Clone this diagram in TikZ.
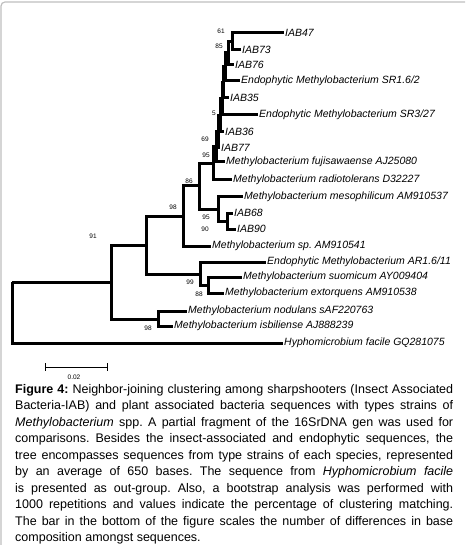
\documentclass[tikz,border=0pt]{standalone}
\usepackage{fontspec}
\setmainfont{Liberation Sans}
\frenchspacing
\begin{document}
\begin{tikzpicture}[x=1pt,y=-1pt,
  branch/.style={line width=3pt},
  taxon/.style={anchor=west,inner sep=1pt,font=\fontsize{10.5}{12}\selectfont\itshape},
  boot/.style={inner sep=0pt,font=\fontsize{6.5}{7}\selectfont}]
\useasboundingbox (0,0) rectangle (465,545);
\draw[gray!50,line width=1.2pt,rounded corners=4pt] (1,545) -- (1,2) -- (465,2);
% taxa
\node[taxon] (iab47) at (284,33) {IAB47};
\node[taxon] (iab73) at (241,50) {IAB73};
\node[taxon] (iab76) at (234,65) {IAB76};
\node[taxon] (sr162) at (240,81) {Endophytic Methylobacterium SR1.6/2};
\node[taxon] (iab35) at (229,98) {IAB35};
\node[taxon] (sr327) at (258,115) {Endophytic Methylobacterium SR3/27};
\node[taxon] (iab36) at (224,132) {IAB36};
\node[taxon] (iab77) at (220,148) {IAB77};
\node[taxon] (fuji) at (225,162) {Methylobacterium fujisawaense AJ25080};
\node[taxon] (radio) at (232,180) {Methylobacterium radiotolerans D32227};
\node[taxon] (meso) at (243,197) {Methylobacterium mesophilicum AM910537};
\node[taxon] (iab68) at (233,213) {IAB68};
\node[taxon] (iab90) at (236,229) {IAB90};
\node[taxon] (msp) at (211,246) {Methylobacterium sp. AM910541};
\node[taxon] (ar1611) at (266,262) {Endophytic Methylobacterium AR1.6/11};
\node[taxon] (suom) at (242,277) {Methylobacterium suomicum AY009404};
\node[taxon] (extor) at (224,293) {Methylobacterium extorquens AM910538};
\node[taxon] (nodul) at (187,311) {Methylobacterium nodulans sAF220763};
\node[taxon] (isbil) at (173,326) {Methylobacterium isbiliense AJ888239};
\node[taxon] (hypho) at (283,343) {Hyphomicrobium facile GQ281075};
% internal nodes
\coordinate (nA) at (232,41.5);
\coordinate (nB) at (228,53);
\coordinate (nC) at (225,67);
\coordinate (nD) at (223,82.5);
\coordinate (nE) at (222,99);
\coordinate (nF) at (220,115.5);
\coordinate (nG) at (218,132);
\coordinate (nH) at (216,147);
\coordinate (nI) at (213,163.5);
\coordinate (nL) at (227,221);
\coordinate (nK) at (218,209);
\coordinate (nJ) at (199,186);
\coordinate (nM) at (183,216);
\coordinate (nQ) at (208,285);
\coordinate (nP) at (200,274);
\coordinate (nN) at (146,245);
\coordinate (nS) at (158,319);
\coordinate (nR) at (111,282);
\coordinate (root) at (12,282);
% branches
\draw[branch] (nA) |- (iab47.west); \draw[branch] (nA) |- (iab73.west);
\draw[branch] (nB) |- (nA); \draw[branch] (nB) |- (iab76.west);
\draw[branch] (nC) |- (nB); \draw[branch] (nC) |- (sr162.west);
\draw[branch] (nD) |- (nC); \draw[branch] (nD) |- (iab35.west);
\draw[branch] (nE) |- (nD); \draw[branch] (nE) |- (sr327.west);
\draw[branch] (nF) |- (nE); \draw[branch] (nF) |- (iab36.west);
\draw[branch] (nG) |- (nF); \draw[branch] (nG) |- (iab77.west);
\draw[branch] (nH) |- (nG); \draw[branch] (nH) |- (fuji.west);
\draw[branch] (nI) |- (nH); \draw[branch] (nI) |- (radio.west);
\draw[branch] (nL) |- (iab68.west); \draw[branch] (nL) |- (iab90.west);
\draw[branch] (nK) |- (meso.west); \draw[branch] (nK) |- (nL);
\draw[branch] (nJ) |- (nI); \draw[branch] (nJ) |- (nK);
\draw[branch] (nM) |- (nJ); \draw[branch] (nM) |- (msp.west);
\draw[branch] (nQ) |- (suom.west); \draw[branch] (nQ) |- (extor.west);
\draw[branch] (nP) |- (ar1611.west); \draw[branch] (nP) |- (nQ);
\draw[branch] (nN) |- (nM); \draw[branch] (nN) |- (nP);
\draw[branch] (nS) |- (nodul.west); \draw[branch] (nS) |- (isbil.west);
\draw[branch] (nR) |- (nN); \draw[branch] (nR) |- (nS);
\draw[branch] (root) -- (nR); \draw[branch] (root) |- (hypho.west);
% bootstrap values
\node[boot] (b61) at (221,31) {61};
\node[boot] (b85) at (219,46) {85};
\node[boot] (b5) at (214,113) {5};
\node[boot] (b69) at (205,139) {69};
\node[boot] (b95) at (206,155) {95};
\node[boot] (b86) at (189,181) {86};
\node[boot] (b98) at (173,207) {98};
\node[boot] (b95b) at (206,217) {95};
\node[boot] (b90) at (205,229) {90};
\node[boot] (b91) at (93,236) {91};
\node[boot] (b99) at (190,282) {99};
\node[boot] (b88) at (199,294) {88};
\node[boot] (b98b) at (148,328) {98};
% scale bar
\coordinate (sbl) at (45,367);
\coordinate (sbr) at (108,367);
\draw[|-|,line width=0.8pt] (sbl) -- (sbr);
\node[boot] (scale) at (74,377) {0.02};
% caption
\node[anchor=north west,text width=438pt,align=justify,inner sep=0pt,
  font=\fontsize{12.5}{16.5}\selectfont] (caption) at (15,384)
  {\textbf{Figure 4:} Neighbor-joining clustering among sharpshooters (Insect Associated\linebreak
  Bacteria-IAB) and plant associated bacteria sequences with types strains of\linebreak
  \textit{Methylobacterium} spp. A partial fragment of the 16SrDNA gen was used for\linebreak
  comparisons. Besides the insect-associated and endophytic sequences, the\linebreak
  tree encompasses sequences from type strains of each species, represented\linebreak
  by an average of 650 bases. The sequence from \textit{Hyphomicrobium facile}\linebreak
  is presented as out-group. Also, a bootstrap analysis was performed with\linebreak
  1000 repetitions and values indicate the percentage of clustering matching.\linebreak
  The bar in the bottom of the figure scales the number of differences in base\linebreak
  composition amongst sequences.};
\end{tikzpicture}
\end{document}
